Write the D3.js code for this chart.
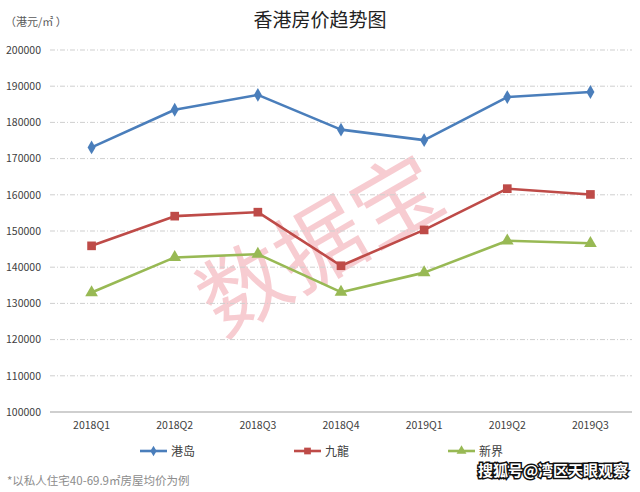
<!DOCTYPE html>
<html>
<head>
<meta charset="utf-8">
<script src="https://cdn.jsdelivr.net/npm/d3@7/dist/d3.min.js"></script>
<style>
html,body{margin:0;padding:0;background:#fff;}
svg{display:block;}
text{font-family:"Noto Sans CJK SC","Noto Sans",sans-serif;}
</style>
</head>
<body>
<svg id="c" width="640" height="492"></svg>
<script>
const categories = ["2018Q1","2018Q2","2018Q3","2018Q4","2019Q1","2019Q2","2019Q3"];
const seriesNames = ["港岛","九龍","新界"];
const hkIsland = [173100,183500,187600,178000,175100,187000,188400];
const kowloon  = [145900,154100,155200,140400,150300,161700,160100];
const newTerr  = [133000,142700,143600,133100,138500,147300,146600];
const yTicks = [100000,110000,120000,130000,140000,150000,160000,170000,180000,190000,200000];

const colors = ["#4a7ebb","#be4b48","#98b954"];
const symbols = [d3.symbolDiamond, d3.symbolSquare, d3.symbolTriangle];
const symSizes = [55, 75, 70];
const data = [hkIsland, kowloon, newTerr];

const svg = d3.select("#c");
const x = d3.scaleBand().domain(categories).range([50, 632]);
const y = d3.scaleLinear().domain([100000, 200000]).range([412, 50]);

// watermark 数据宝
svg.append("text")
  .attr("x", 0).attr("y", 0)
  .attr("transform", "translate(336,272) rotate(-30)")
  .attr("text-anchor", "middle")
  .attr("font-size", 88)
  .attr("font-weight", 400)
  .attr("fill", "#f09aa3")
  .attr("fill-opacity", 0.5)
  .text("数据宝");

// gridlines
const grid = svg.append("g");
grid.selectAll("line").data(yTicks.filter(t => t > 100000)).join("line")
  .attr("x1", 50).attr("x2", 632)
  .attr("y1", d => y(d)).attr("y2", d => y(d))
  .attr("stroke", "#cfcfcf").attr("stroke-width", 1)
  .attr("stroke-dasharray", "5,2,1,2");

// base axis line
svg.append("line")
  .attr("x1", 50).attr("x2", 632)
  .attr("y1", y(100000)).attr("y2", y(100000))
  .attr("stroke", "#bfbfbf").attr("stroke-width", 1.3);

// y axis
const yAxis = d3.axisLeft(y).tickValues(yTicks).tickSize(0).tickPadding(0).tickFormat(d3.format("d"));
const yg = svg.append("g").attr("transform", "translate(41,0)").call(yAxis);
yg.select(".domain").remove();
yg.selectAll("text").attr("font-size", 10.5).attr("fill", "#404040")
  .attr("font-family", "'Liberation Sans','DejaVu Sans',sans-serif");

// x axis
const xAxis = d3.axisBottom(x).tickSize(0).tickPadding(0);
const xg = svg.append("g").attr("transform", "translate(0,422)").call(xAxis);
xg.select(".domain").remove();
xg.selectAll("text").attr("font-size", 10.5).attr("fill", "#404040")
  .attr("font-family", "'Liberation Sans','DejaVu Sans',sans-serif");

// lines
const line = d3.line().x((d, i) => x(categories[i]) + x.bandwidth() / 2).y(d => y(d));
data.forEach((vals, si) => {
  svg.append("path").datum(vals)
    .attr("d", line)
    .attr("fill", "none")
    .attr("stroke", colors[si])
    .attr("stroke-width", 2.6)
    .attr("stroke-linejoin", "round");
  svg.append("g").selectAll("path").data(vals).join("path")
    .attr("transform", (d, i) => `translate(${x(categories[i]) + x.bandwidth() / 2},${y(d)})`)
    .attr("d", d3.symbol().type(symbols[si]).size(symSizes[si]))
    .attr("fill", colors[si]);
});

// legend
const legendX = [140, 294, 448];
seriesNames.forEach((name, si) => {
  const g = svg.append("g").attr("transform", `translate(${legendX[si]},451)`);
  g.append("line").attr("x1", 0).attr("x2", 27).attr("y1", 0).attr("y2", 0)
    .attr("stroke", colors[si]).attr("stroke-width", 2.6);
  g.append("path").attr("transform", "translate(13.5,0)")
    .attr("d", d3.symbol().type(symbols[si]).size(symSizes[si] * 0.6))
    .attr("fill", colors[si]);
  g.append("text").attr("x", 31).attr("y", 4.5)
    .attr("font-size", 12).attr("fill", "#404040").text(name);
});

// title
svg.append("text").attr("x", 320).attr("y", 27)
  .attr("text-anchor", "middle")
  .attr("font-size", 19).attr("fill", "#222").text("香港房价趋势图");

// unit
svg.append("text").attr("x", 5).attr("y", 26)
  .attr("font-size", 11).attr("fill", "#595959").text("（港元/㎡ ）");

// footnote
svg.append("text").attr("x", 7).attr("y", 485)
  .attr("font-size", 11.5).attr("fill", "#8c8c8c").text("*以私人住宅40-69.9㎡房屋均价为例");

// platform watermark
svg.append("text").attr("x", 628).attr("y", 476)
  .attr("text-anchor", "end")
  .attr("font-size", 15).attr("font-weight", 700)
  .attr("fill", "#fff").attr("stroke", "#111").attr("stroke-width", 3)
  .attr("paint-order", "stroke")
  .text("搜狐号@湾区天眼观察");
</script>
</body>
</html>
